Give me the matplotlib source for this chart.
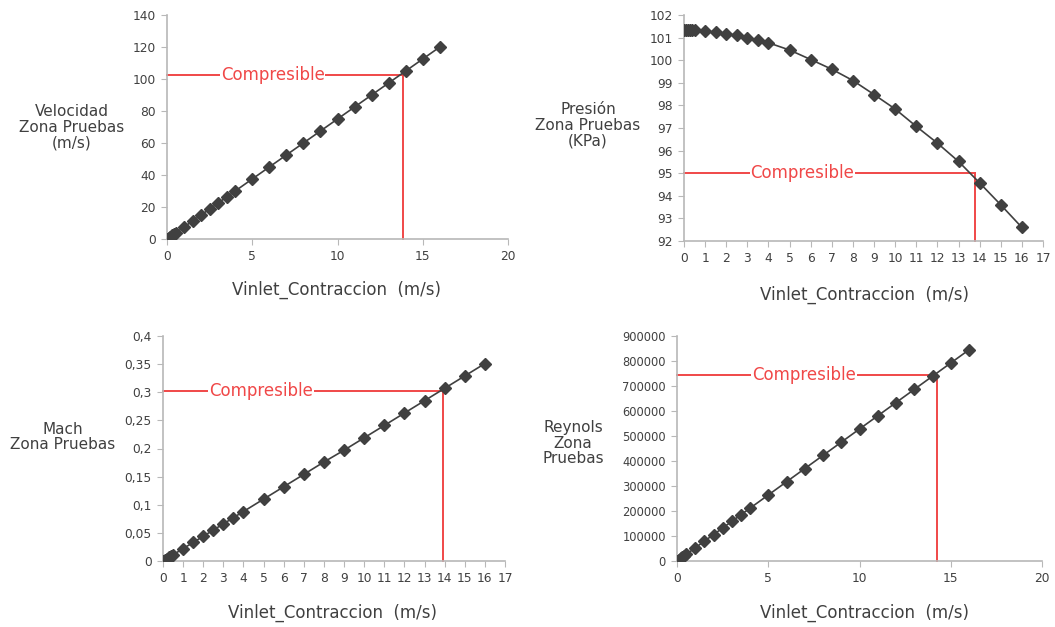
import numpy as np
import matplotlib
matplotlib.use("Agg")
import matplotlib.pyplot as plt
from matplotlib.ticker import FuncFormatter

plt.rcParams['font.family'] = ['DejaVu Sans']

# DATOS
vinlet = [0, 0.1, 0.2, 0.3, 0.4, 0.5, 1, 1.5, 2, 2.5, 3, 3.5, 4,
          5, 6, 7, 8, 9, 10, 11, 12, 13, 14, 15, 16]

velocidad = [0, 0.75, 1.5, 2.25, 3, 3.75, 7.5, 11.25, 15, 18.75, 22.5, 26.25, 30,
             37.5, 45, 52.5, 60, 67.5, 75, 82.5, 90, 97.5, 105, 112.5, 120]

presion = [101.33, 101.33, 101.33, 101.33, 101.32, 101.32, 101.28, 101.24, 101.17,
           101.10, 101.00, 100.90, 100.77, 100.45, 100.03, 99.60, 99.10, 98.48,
           97.84, 97.07, 96.33, 95.52, 94.57, 93.60, 92.60]

mach = [0, 0.0022, 0.0044, 0.0066, 0.0088, 0.011, 0.022, 0.033, 0.044, 0.055,
        0.066, 0.077, 0.088, 0.11, 0.132, 0.154, 0.176, 0.197, 0.219, 0.241,
        0.263, 0.285, 0.307, 0.329, 0.351]

reynolds = [0, 5280, 10560, 15840, 21120, 26400, 52800, 79200, 105600, 132000,
            158400, 184800, 211200, 264000, 316800, 369600, 422400, 475200,
            528000, 580800, 633600, 686400, 739200, 792000, 844800]

# limite compresible (x, y) de cada grafica
lim_vel = (13.85, 102.5)
lim_pres = (13.8, 95.0)
lim_mach = (13.92, 0.302)
lim_rey = (14.26, 746000)

W, H = 1055, 627
fig = plt.figure(figsize=(W / 100, H / 100), dpi=100)

GRIS = '#404040'
EJE = '#b8b8b8'
ROJO = '#f04848'


def px_ax(left, right, top, bottom):
    return fig.add_axes([left / W, 1 - bottom / H, (right - left) / W, (bottom - top) / H])


def estilo(ax):
    for s in ['top', 'right']:
        ax.spines[s].set_visible(False)
    for s in ['left', 'bottom']:
        ax.spines[s].set_color(EJE)
        ax.spines[s].set_linewidth(1.2)
    ax.tick_params(direction='out', length=4, color=EJE, labelcolor=GRIS,
                   labelsize=8.8, pad=4)


def grafica(ax, y, lim, xtext):
    ax.plot(vinlet, y, color=GRIS, linewidth=1.2, marker='D', markersize=6.5,
            markerfacecolor=GRIS, markeredgecolor=GRIS, zorder=3)
    x0, y0 = ax.get_xlim()[0], ax.get_ylim()[0]
    ax.plot([x0, lim[0]], [lim[1], lim[1]], color=ROJO, linewidth=1.4, zorder=2, clip_on=False)
    ax.plot([lim[0], lim[0]], [y0, lim[1]], color=ROJO, linewidth=1.4, zorder=2, clip_on=False)
    ax.text(xtext, lim[1], 'Compresible', color=ROJO, fontsize=12, ha='center', va='center',
            bbox=dict(facecolor='white', edgecolor='none', pad=0.5), zorder=4)


def label(x, y, s, size=11):
    fig.text(x / W, 1 - y / H, s, ha='center', va='center', color=GRIS,
             fontsize=size, linespacing=1.05)


# Velocidad
ax1 = px_ax(167, 508, 15, 239)
ax1.set_xlim(0, 20)
ax1.set_ylim(0, 140)
ax1.set_xticks(range(0, 21, 5))
ax1.set_yticks(range(0, 141, 20))
estilo(ax1)
grafica(ax1, velocidad, lim_vel, 6.2)

# Presion
ax2 = px_ax(684, 1043, 15, 241)
ax2.set_xlim(0, 17)
ax2.set_ylim(92, 102)
ax2.set_xticks(range(0, 18))
ax2.set_yticks(range(92, 103))
estilo(ax2)
grafica(ax2, presion, lim_pres, 5.6)

# Mach
ax3 = px_ax(163, 505, 336, 561)
ax3.set_xlim(0, 17)
ax3.set_ylim(0, 0.4)
ax3.set_xticks(range(0, 18))
ax3.set_yticks(np.arange(0, 0.41, 0.05))
ax3.yaxis.set_major_formatter(FuncFormatter(lambda v, p: ('%g' % round(v, 2)).replace('.', ',')))
estilo(ax3)
grafica(ax3, mach, lim_mach, 4.87)

# Reynolds
ax4 = px_ax(677, 1042, 336, 561)
ax4.set_xlim(0, 20)
ax4.set_ylim(0, 900000)
ax4.set_xticks(range(0, 21, 5))
ax4.set_yticks(range(0, 900001, 100000))
ax4.yaxis.set_major_formatter(FuncFormatter(lambda v, p: '%d' % v))
ax4.tick_params(axis='y', labelsize=8.5)
estilo(ax4)
ax4.tick_params(axis='y', labelsize=8.3)
grafica(ax4, reynolds, lim_rey, 6.96)

# Etiquetas
label(72, 127, 'Velocidad\nZona Pruebas\n(m/s)')
label(588, 125, 'Presión\nZona Pruebas\n(KPa)')
label(63, 437, 'Mach\nZona Pruebas')
label(573, 443, 'Reynols\nZona\nPruebas')

xl = 'Vinlet_Contraccion  (m/s)'
label(337, 290, xl, 12)
label(865, 295, xl, 12)
label(332, 613, xl, 12)
label(865, 613, xl, 12)

fig.savefig('out.png', dpi=100)
